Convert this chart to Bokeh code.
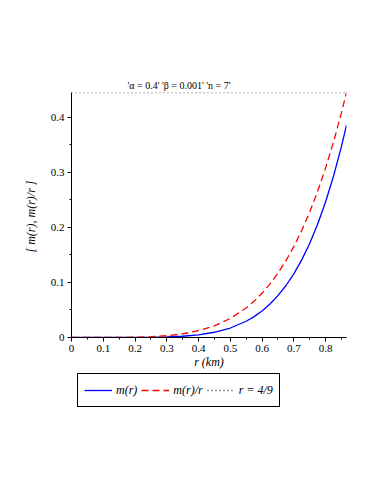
from bokeh.plotting import figure
from bokeh.layouts import column
from bokeh.models import Legend, LegendItem, Range1d, FixedTicker
from bokeh.embed import file_html
from bokeh.resources import INLINE

# data
r_vals = [0.0, 0.05, 0.1, 0.15, 0.2, 0.25, 0.3, 0.35, 0.4, 0.45, 0.5, 0.55, 0.575,
          0.6, 0.625, 0.65, 0.675, 0.7, 0.725, 0.75, 0.775, 0.8, 0.825, 0.85, 0.866]
m_vals = [0.0, 0.0, 0.0, 0.00002, 0.0001, 0.00034, 0.00095, 0.0023, 0.0049, 0.0095,
          0.0172, 0.0295, 0.0379, 0.0482, 0.0608, 0.0759, 0.0939, 0.1154, 0.1408,
          0.1706, 0.2053, 0.2458, 0.2925, 0.3463, 0.385]
m_over_r = [0.0, 0.0, 0.00001, 0.0001, 0.0005, 0.00136, 0.0032, 0.0066, 0.0123, 0.0211,
            0.0344, 0.0536, 0.0659, 0.0803, 0.0972, 0.1168, 0.1391, 0.1649, 0.1942,
            0.2275, 0.2649, 0.3073, 0.3545, 0.4074, 0.4446]
limit_x = [0.0, 0.866]
limit_y = [4 / 9, 4 / 9]
x_ticks = [0, 0.1, 0.2, 0.3, 0.4, 0.5, 0.6, 0.7, 0.8]
y_ticks = [0, 0.1, 0.2, 0.3, 0.4]
legend_labels = ["m(r)", "m(r)/r", "r = 4/9"]

FONT = "Liberation Serif"
BLUE, RED, DOT = "#0000FF", "#FF0000", "#333333"

p = figure(frame_width=275, frame_height=245, output_backend="svg", toolbar_location=None,
           x_range=Range1d(0, 0.866), y_range=Range1d(0, 4 / 9),
           min_border_left=71, min_border_right=16, min_border_top=92, min_border_bottom=0,
           title="'α = 0.4' 'β = 0.001' 'n = 7'")
p.outline_line_color = None
p.grid.visible = False

p.title.text_font = FONT
p.title.text_font_size = "10px"
p.title.text_font_style = "normal"
p.title.text_color = "black"
p.title.align = "left"
p.title.offset = 56
p.title.standoff = 3

for ax in (p.xaxis[0], p.yaxis[0]):
    ax.major_label_text_font = FONT
    ax.major_label_text_font_size = "11px"
    ax.major_label_text_color = "black"
    ax.axis_label_text_font = FONT
    ax.axis_label_text_font_size = "12px"
    ax.axis_label_text_font_style = "italic"
    ax.axis_label_text_color = "black"
    ax.axis_line_color = "black"
    ax.major_tick_line_color = "black"
    ax.minor_tick_line_color = "black"
    ax.major_tick_out = 4
    ax.major_tick_in = 0
    ax.minor_tick_out = 2
    ax.minor_tick_in = 0
    ax.major_label_standoff = 3

p.xaxis.ticker = FixedTicker(ticks=x_ticks, minor_ticks=[0.05 + 0.1 * i for i in range(9)])
p.yaxis.ticker = FixedTicker(ticks=y_ticks, minor_ticks=[0.05, 0.15, 0.25, 0.35])
p.xaxis.major_label_overrides = {0: "0"}
p.yaxis.major_label_overrides = {0: "0"}
p.xaxis.axis_label = "r (km)"
p.xaxis.axis_label_standoff = 0
p.yaxis.axis_label = "[ m(r),  m(r)/r ]"
p.yaxis.axis_label_standoff = 10

p.line(r_vals, m_vals, line_color=BLUE, line_width=1.3)
p.line(r_vals, m_over_r, line_color=RED, line_width=1.3, line_dash="7 4")
p.line(limit_x, limit_y, line_color=DOT, line_width=1.3, line_dash="1 3")

# legend strip below the plot (its own small figure, same glyph styles;
# its key renderers hold a single point, so they draw nothing themselves)
q = figure(frame_width=275, frame_height=38, output_backend="svg", toolbar_location=None,
           x_range=Range1d(0, 1), y_range=Range1d(0, 1),
           min_border_left=71, min_border_right=16, min_border_top=0, min_border_bottom=0)
q.axis.visible = False
q.grid.visible = False
q.outline_line_color = None
k1 = q.line(r_vals[:1], m_vals[:1], line_color=BLUE, line_width=1.3)
k2 = q.line(r_vals[:1], m_over_r[:1], line_color=RED, line_width=1.3, line_dash="7 4")
k3 = q.line(limit_x[:1], limit_y[:1], line_color=DOT, line_width=1.3, line_dash="1 3")

legend = Legend(items=[LegendItem(label=legend_labels[0], renderers=[k1]),
                       LegendItem(label=legend_labels[1], renderers=[k2]),
                       LegendItem(label=legend_labels[2], renderers=[k3])],
                orientation="horizontal", location=(6, 2))
legend.label_text_font = FONT
legend.label_text_font_style = "italic"
legend.label_text_font_size = "12px"
legend.label_text_color = "black"
legend.glyph_width = 28
legend.glyph_height = 20
legend.label_height = 20
legend.label_standoff = 4
legend.spacing = 4
legend.padding = 6
legend.margin = 0
legend.border_line_color = "black"
legend.border_line_width = 1.5
legend.border_line_alpha = 1
legend.background_fill_alpha = 1
q.add_layout(legend, "center")

layout = column(p, q, spacing=0)
open("out.html", "w").write(file_html(layout, INLINE))
